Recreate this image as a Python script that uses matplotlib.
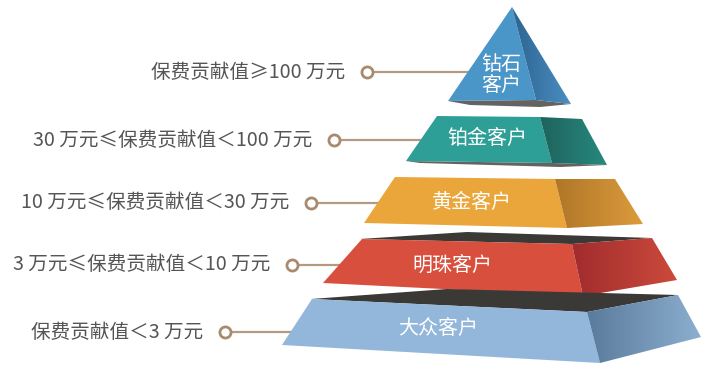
import matplotlib
matplotlib.use("Agg")
import matplotlib.pyplot as plt
import numpy as np
from matplotlib.patches import Polygon
from matplotlib.colors import LinearSegmentedColormap

plt.rcParams['font.family'] = ['Noto Sans CJK SC', 'DejaVu Sans']

# ---- data ----
tiers = ["钻石\n客户", "铂金客户", "黄金客户", "明珠客户", "大众客户"]
ranges = ["保费贡献值≥100 万元",
          "30 万元≤保费贡献值＜100 万元",
          "10 万元≤保费贡献值＜30 万元",
          "3 万元≤保费贡献值＜10 万元",
          "保费贡献值＜3 万元"]
front_colors = ["#4B96C9", "#2E9F96", "#EAA63B", "#D94F3E", "#93B7DB"]
side_colors = [("#2C6491", "#4B8EC2"), ("#1E635C", "#27897F"),
               ("#B07628", "#DC9C3C"), ("#A12C2E", "#CC4A3B"),
               ("#5A7B9C", "#8CAECF")]

W, H = 701, 365
fig = plt.figure(figsize=(W / 100, H / 100), dpi=100)
ax = fig.add_axes([0, 0, 1, 1])
ax.set_xlim(0, W)
ax.set_ylim(H, 0)
ax.axis('off')

# geometry (pixel layout)
fronts = [
    [(512, 7), (536, 100), (448, 101)],
    [(437, 116), (540, 117), (552, 163), (406, 161)],
    [(395, 177), (555, 179), (567, 228), (364, 223)],
    [(362, 239), (572, 244), (583, 296), (323, 283)],
    [(312, 299), (587, 312), (600, 363), (282, 345)],
]
sides = [
    [(512, 7), (571, 104), (536, 100)],
    [(540, 117), (582, 119), (607, 165), (552, 163)],
    [(555, 179), (615, 179), (643, 224), (567, 228)],
    [(572, 244), (652, 238), (677, 280), (583, 296)],
    [(587, 312), (678, 295), (701, 337), (600, 363)],
]
tops = [None, None, None,
        [(360, 239), (467, 232), (652, 238), (572, 244)],
        [(311, 299), (447, 289), (678, 295), (587, 312)]]
shadows = [[(448, 101), (536, 100), (571, 104), (540, 107), (470, 105)],
           [(406, 161), (552, 163), (607, 165), (560, 167), (420, 163)],
           None, None, None]
label_pos = [(501, 75), (487, 138), (472, 202), (452, 265), (438, 328)]
rows_y = [72, 140, 203, 265, 332]
circle_x = [367, 334, 311, 292, 225]
line_end = [470, 440, 390, 355, 310]


def gradient_poly(ax, pts, c1, c2, z):
    pts = np.array(pts, dtype=float)
    x0, x1 = pts[:, 0].min(), pts[:, 0].max()
    y0, y1 = pts[:, 1].min(), pts[:, 1].max()
    cmap = LinearSegmentedColormap.from_list("g", [c1, c2])
    grad = np.linspace(0, 1, 256).reshape(1, -1)
    im = ax.imshow(grad, cmap=cmap, extent=(x0, x1, y1, y0), aspect='auto',
                   zorder=z, interpolation='bilinear')
    poly = Polygon(pts, closed=True, facecolor='none', edgecolor='none')
    ax.add_patch(poly)
    im.set_clip_path(poly)


# connector lines & circles
for i in range(5):
    ax.plot([circle_x[i], line_end[i]], [rows_y[i], rows_y[i]],
            color="#B39A80", lw=1.6, zorder=1, solid_capstyle='butt')
    ax.plot(circle_x[i], rows_y[i], 'o', ms=8, mfc='white', mec="#A88B6E",
            mew=2, zorder=2)
    ax.text(circle_x[i] - 22, rows_y[i], ranges[i], ha='right', va='center',
            fontsize=14.1, color="#555555", zorder=3)

for i in range(5):
    z = 5 + i
    if shadows[i] is not None:
        ax.add_patch(Polygon(shadows[i], closed=True, facecolor="#4A4846",
                             edgecolor='none', zorder=z - 0.5, alpha=0.85))
    if tops[i] is not None:
        ax.add_patch(Polygon(tops[i], closed=True, facecolor="#3B3936",
                             edgecolor='none', zorder=z))
    ax.add_patch(Polygon(fronts[i], closed=True, facecolor=front_colors[i],
                         edgecolor='none', zorder=z + 0.1))
    gradient_poly(ax, sides[i], side_colors[i][0], side_colors[i][1], z + 0.2)
    ax.text(label_pos[i][0], label_pos[i][1], tiers[i], ha='center',
            va='center', fontsize=14.4, color='white', zorder=z + 0.3,
            linespacing=1.0)

fig.savefig("out.png", dpi=100)
